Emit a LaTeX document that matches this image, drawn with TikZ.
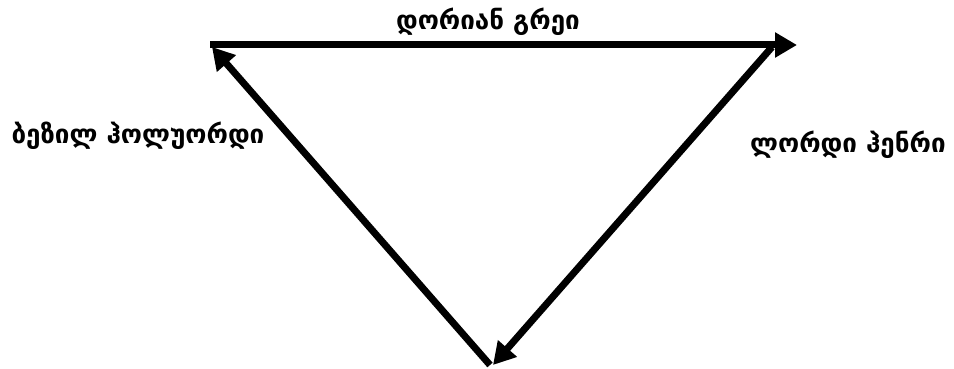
\documentclass[tikz,border=0pt]{standalone}
\usepackage{fontspec}
\newfontfamily\geofont[Script=Georgian]{DejaVu Sans}
\usetikzlibrary{arrows.meta}
\begin{document}
\begin{tikzpicture}[x=1pt,y=1pt,
  edge/.style={line width=7pt,-{Triangle[length=22pt,width=24pt]}},
  lbl/.style={font=\geofont\bfseries\fontsize{26}{31}\selectfont,inner sep=0pt}]
\fill[white] (0,0) rectangle (954,369);
\useasboundingbox (0,0) rectangle (954,369);
\coordinate (tl) at (210,324);
\coordinate (tr) at (797,324);
\coordinate (rs) at (772,322);
\coordinate (bt) at (493,4);
\coordinate (bs) at (490,4);
\coordinate (tlt) at (212,322);
\draw[edge] (tl) -- (tr);
\draw[edge] (rs) -- (bt);
\draw[edge] (bs) -- (tlt);
\node[lbl] (top) at (488,347) {დორიან გრეი};
\node[lbl] (left) at (138,233) {ბეზილ ჰოლუორდი};
\node[lbl] (right) at (848,224) {ლორდი ჰენრი};
\end{tikzpicture}
\end{document}
